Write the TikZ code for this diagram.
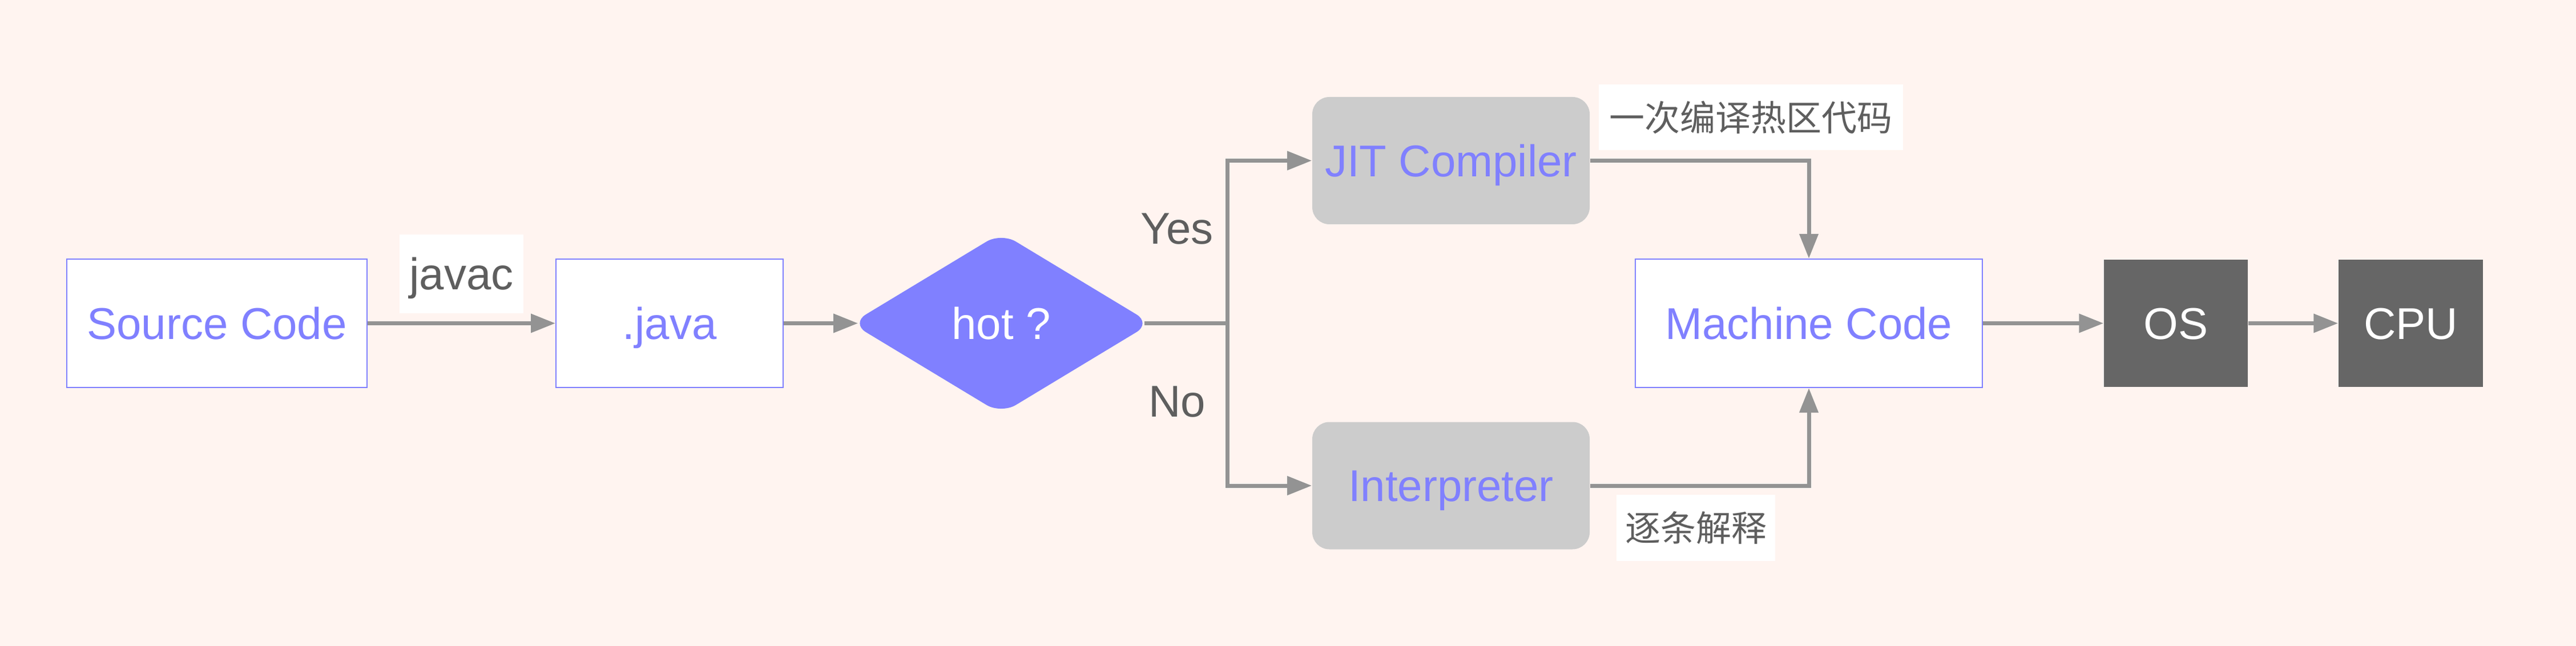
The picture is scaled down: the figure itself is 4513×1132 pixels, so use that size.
\documentclass[tikz,border=0pt]{standalone}
\usepackage{fontspec}
\setmainfont{Liberation Sans}
\newfontfamily\cjk{Noto Sans CJK SC}
\usetikzlibrary{arrows.meta,shapes.geometric}
\definecolor{bgc}{HTML}{FFF4F0}
\definecolor{blu}{HTML}{8080FF}
\definecolor{lgray}{HTML}{CCCCCC}
\definecolor{dgray}{HTML}{666666}
\definecolor{conn}{HTML}{939393}
\definecolor{lbl}{HTML}{5E5E5E}
\tikzset{
  capc/.style={text height=13.96pt, text depth=0pt},
  box/.style={draw=blu, line width=0.5pt, fill=white, text=blu, minimum height=56.25pt, inner sep=0pt, font=\fontsize{19.5}{22}\selectfont, capc},
  gbox/.style={fill=lgray, rounded corners=7.5pt, text=blu, minimum width=121.5pt, minimum height=55.75pt, inner sep=0pt, font=\fontsize{19.5}{22}\selectfont, capc},
  dbox/.style={fill=dgray, text=white, minimum height=55.75pt, inner sep=0pt, font=\fontsize{19.5}{22}\selectfont, capc},
  decis/.style={diamond, fill=blu, text=white, rounded corners=7.5pt, aspect=1.654, minimum width=131.5pt, minimum height=79.5pt, inner sep=0pt, font=\fontsize{19.5}{22}\selectfont, capc},
  tag/.style={fill=white, text=lbl, inner sep=0pt, font=\fontsize{19.5}{22}\selectfont, capc},
  cjktag/.style={fill=white, text=lbl, inner sep=0pt, font=\cjk\fontsize{15.5}{18}\selectfont},
  plain/.style={text=lbl, inner sep=0pt, font=\fontsize{19.5}{22}\selectfont, capc},
  link/.style={draw=conn, line width=1.75pt},
  arrow/.style={link, -{Triangle[length=10.75pt,width=8pt]}}
}
\begin{document}
\begin{tikzpicture}[x=0.25pt,y=-0.25pt]
\useasboundingbox (0,0) rectangle (4513,1132);
\fill[bgc] (0,0) rectangle (4513,1132);

\node[box, minimum width=131.5pt] (src) at (380,566.5) {Source Code};
\node[box, minimum width=99.5pt] (java) at (1173,566.5) {.java};
\node[decis] (hot) at (1754,566.5) {hot ?};
\node[gbox] (jit) at (2542,281.5) {JIT Compiler};
\node[gbox] (interp) at (2542,851) {Interpreter};
\node[box, minimum width=152pt] (mc) at (3169,566.5) {Machine Code};
\node[dbox, minimum width=63pt] (os) at (3812,566.5) {OS};
\node[dbox, minimum width=63.25pt] (cpu) at (4223.5,566.5) {CPU};
\coordinate (br) at (2150,566.5);

\node[tag, minimum width=54.25pt, minimum height=34.5pt] (javac) at (808.5,480) {javac};
\node[plain] (yes) at (2062,400) {Yes};
\node[plain] (no) at (2062,702.5) {No};
\node[cjktag, minimum width=133.25pt, minimum height=28.75pt] (l1) at (3067.5,205.5) {一次编译热区代码};
\node[cjktag, minimum width=69.5pt, minimum height=29pt] (l2) at (2971,925) {逐条解释};

\draw[arrow] (src.east) -- (java.west);
\draw[arrow] (java.east) -- ([xshift=3.25pt]hot.west);
\draw[link] ([xshift=-3.25pt]hot.east) -- (br);
\draw[arrow] (br) |- (jit.west);
\draw[arrow] (br) |- (interp.west);
\draw[arrow] (jit.east) -| (mc.north);
\draw[arrow] (interp.east) -| (mc.south);
\draw[arrow] (mc.east) -- (os.west);
\draw[arrow] (os.east) -- (cpu.west);
\end{tikzpicture}
\end{document}
